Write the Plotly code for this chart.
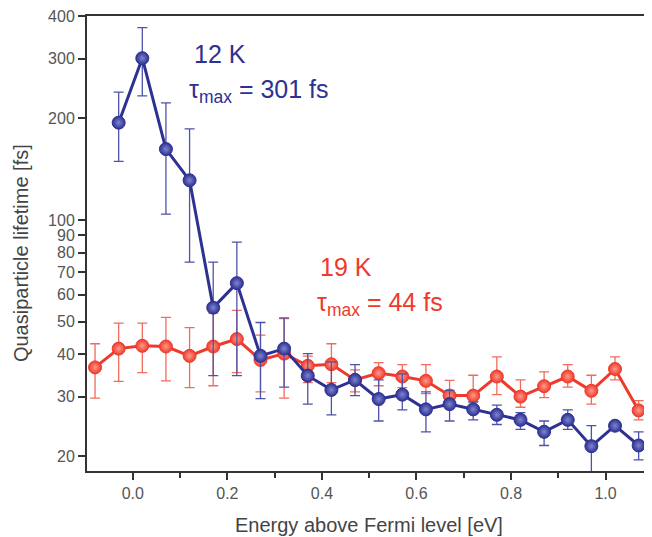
import plotly.graph_objects as go

# Energy above Fermi level [eV]
x_red = [-0.08, -0.03, 0.02, 0.07, 0.12, 0.17, 0.22, 0.27, 0.32, 0.37, 0.42, 0.47,
         0.52, 0.57, 0.62, 0.67, 0.72, 0.77, 0.82, 0.87, 0.92, 0.97, 1.02, 1.07]
x_blue = [-0.03, 0.02, 0.07, 0.12, 0.17, 0.22, 0.27, 0.32, 0.37, 0.42, 0.47,
          0.52, 0.57, 0.62, 0.67, 0.72, 0.77, 0.82, 0.87, 0.92, 0.97, 1.02, 1.07]

# 12 K lifetimes [fs] and error bar ends
y_blue = [194, 301, 162, 131, 55, 65, 39.6, 41.6, 34.6, 31.4, 33.6,
          29.5, 30.4, 27.5, 28.5, 27.5, 26.5, 25.6, 23.6, 25.6, 21.4, 24.6, 21.5]
hi_blue = [239, 371, 222, 186, 75, 86, 49.7, 51.3, 40.2, 38, 37.3,
           33.6, 35, 31, 31.3, 28.9, 28.3, 26.9, 25.4, 27.4, 24.6, 25.1, 23.6]
lo_blue = [149, 233, 104, 75, 34.6, 34.6, 29.6, 32, 28.5, 26.5, 30.2,
           25.4, 27.4, 23.6, 25.4, 25.6, 24.8, 24, 21.5, 24, 17.5, 24.1, 19.5]

# 19 K lifetimes [fs] and error bar ends
y_red = [36.6, 41.6, 42.4, 42.2, 39.6, 42.2, 44.4, 38.5, 40.2, 37, 37.4, 33.6,
         35.2, 34.4, 33.4, 30.2, 30.2, 34.4, 30, 32.2, 34.4, 31.2, 36.2, 27.3]
hi_red = [43, 49.5, 49.5, 51.5, 48, 53, 54, 45.6, 51, 39.5, 43, 36,
          37.8, 37.3, 37.3, 33.5, 34.7, 39.3, 33.6, 35.5, 37.3, 34.7, 39.3, 29.2]
lo_red = [29.7, 33.3, 35.3, 33.4, 31.9, 32.3, 35.3, 31, 29.7, 33, 33, 31,
          32.3, 31.9, 30.6, 28.5, 29, 30.4, 27.9, 29.8, 32, 28.5, 33.6, 25.6]

y_tickvals = [20, 30, 40, 50, 60, 70, 80, 90, 100, 200, 300, 400]
x_tickvals = [0.0, 0.2, 0.4, 0.6, 0.8, 1.0]
x_ticktext = ["0.0", "0.2", "0.4", "0.6", "0.8", "1.0"]

BLUE = "#2d3192"
RED = "#ee3a2c"
FONT = "Liberation Sans, Arial, sans-serif"


def trace(x, y, hi, lo, color, errcolor, grad):
    return go.Scatter(
        x=x, y=y, mode="lines+markers",
        line=dict(color=color, width=3),
        marker=dict(size=13, color=color, line=dict(color=color, width=1),
                    gradient=dict(type="radial", color=grad)),
        error_y=dict(type="data", symmetric=False,
                     array=[h - v for h, v in zip(hi, y)],
                     arrayminus=[v - l for v, l in zip(y, lo)],
                     color=errcolor, thickness=1.3, width=5),
        showlegend=False, cliponaxis=True,
    )


fig = go.Figure()
fig.add_trace(trace(x_red, y_red, hi_red, lo_red, RED, "#f26b5e", "#ff9a8a"))
fig.add_trace(trace(x_blue, y_blue, hi_blue, lo_blue, BLUE, "#4f53a8", "#7f84cf"))

fig.update_layout(
    width=644, height=529,
    margin=dict(l=79, r=2, t=8, b=66, autoexpand=False),
    paper_bgcolor="white", plot_bgcolor="white",
    font=dict(family=FONT, color="#444444"),
)
fig.update_xaxes(
    range=[-0.097, 1.094], tickvals=x_tickvals, ticktext=x_ticktext,
    ticks="outside", ticklen=7, tickwidth=2, tickcolor="#333333",
    minor=dict(tickvals=[0.1, 0.3, 0.5, 0.7, 0.9], ticks="outside", ticklen=5,
               tickwidth=2, tickcolor="#333333"),
    showline=True, linecolor="#333333", linewidth=2, mirror=True,
    showgrid=False, zeroline=False, automargin=False,
    tickfont=dict(size=16, color="#555555"),
)
fig.update_yaxes(
    type="log", range=[1.2569, 2.6035],
    tickvals=y_tickvals, ticktext=[str(v) for v in y_tickvals],
    ticks="outside", ticklen=7, tickwidth=2, tickcolor="#333333",
    showline=True, linecolor="#333333", linewidth=2, mirror=True,
    showgrid=False, zeroline=False, automargin=False,
    tickfont=dict(size=16, color="#555555"),
)

# axis titles
fig.add_annotation(x=0.5, y=-0.1187, xref="paper", yref="paper",
                   text="Energy above Fermi level [eV]", showarrow=False,
                   xanchor="center", yanchor="middle",
                   font=dict(size=20, color="#444444", family=FONT))
fig.add_annotation(x=-0.1172, y=0.479, xref="paper", yref="paper",
                   text="Quasiparticle lifetime [fs]", showarrow=False, textangle=-90,
                   xanchor="center", yanchor="middle",
                   font=dict(size=20, color="#444444", family=FONT))

# in-plot labels
fig.add_annotation(x=0.1865, y=0.9165, xref="paper", yref="paper",
                   text="12 K", showarrow=False, xanchor="left", yanchor="middle",
                   font=dict(size=25, color=BLUE, family=FONT))
fig.add_annotation(x=0.1776, y=0.835, xref="paper", yref="paper",
                   text="τ<sub>max</sub> = 301 fs", showarrow=False, xanchor="left", yanchor="middle",
                   font=dict(size=25, color=BLUE, family=FONT))
fig.add_annotation(x=0.410, y=0.448, xref="paper", yref="paper",
                   text="19 K", showarrow=False, xanchor="left", yanchor="middle",
                   font=dict(size=25, color=RED, family=FONT))
fig.add_annotation(x=0.405, y=0.367, xref="paper", yref="paper",
                   text="τ<sub>max</sub> = 44 fs", showarrow=False, xanchor="left", yanchor="middle",
                   font=dict(size=25, color=RED, family=FONT))

fig.write_html("out.html")
